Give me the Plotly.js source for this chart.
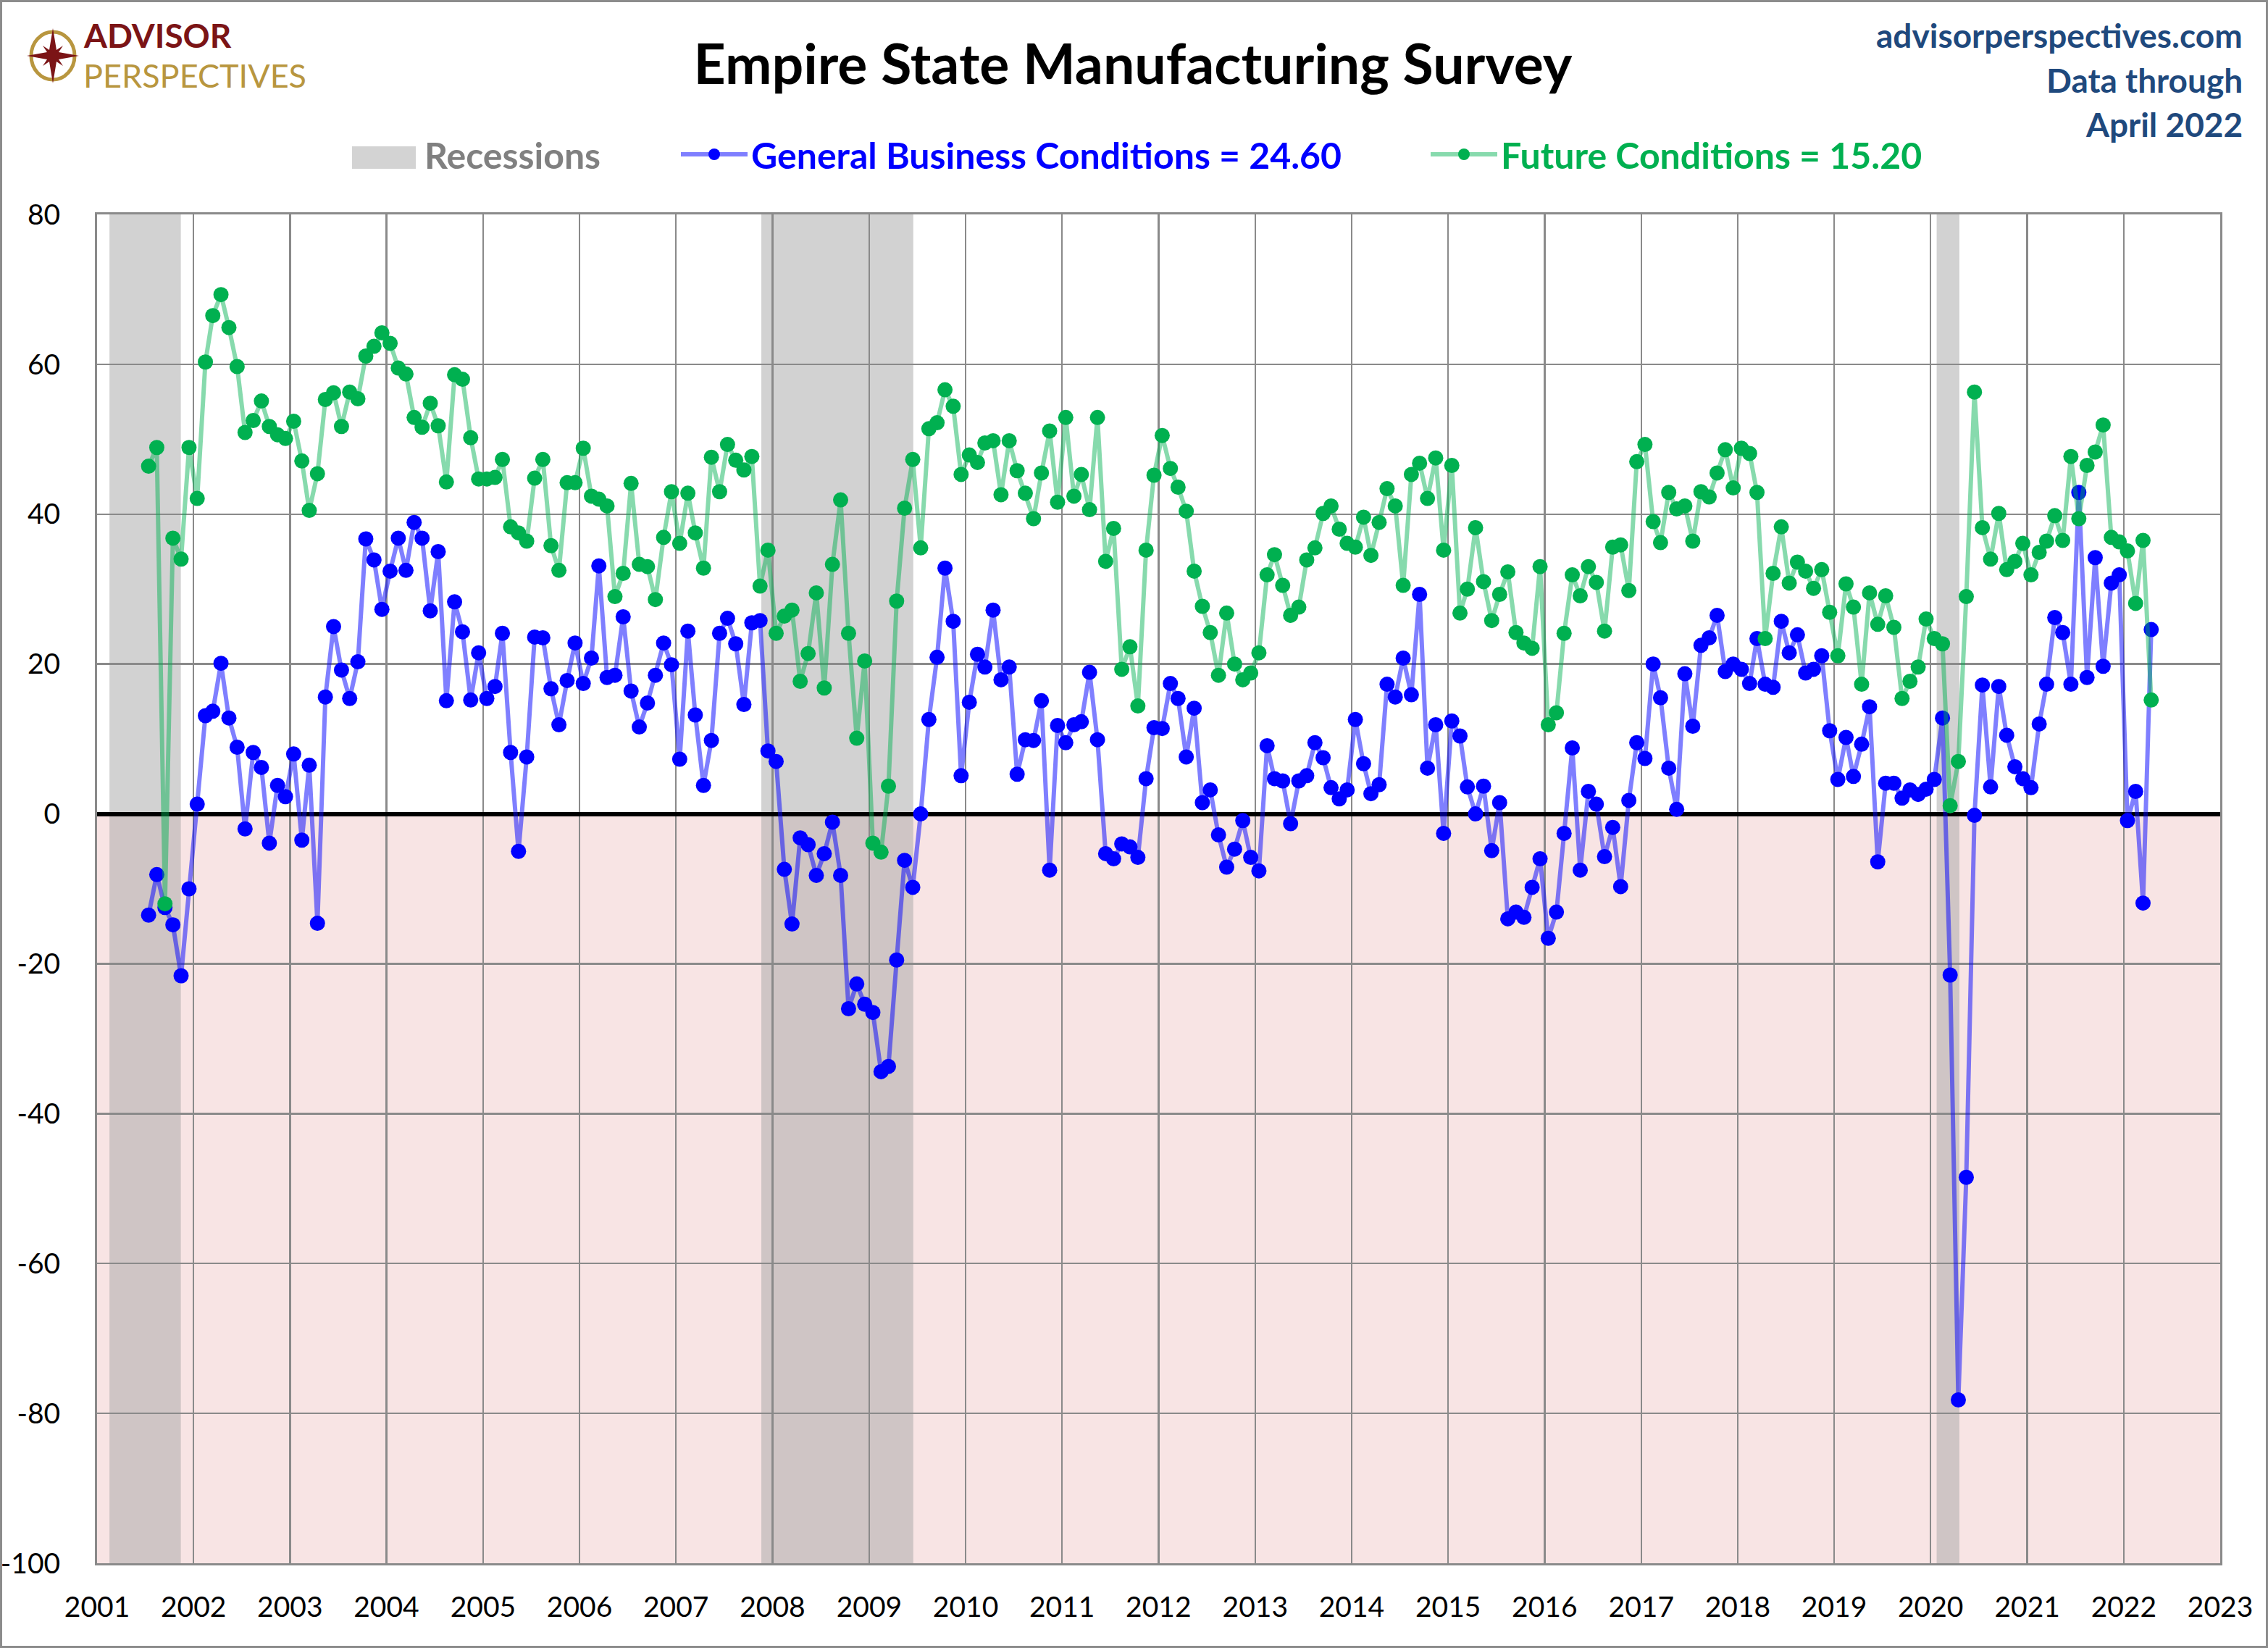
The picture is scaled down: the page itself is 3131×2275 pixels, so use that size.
<!DOCTYPE html>
<html>
<head>
<meta charset="utf-8">
<script src="https://cdn.plot.ly/plotly-3.0.1.min.js"></script>
<style>
html, body { margin: 0; padding: 0; background: #fff; }
#chart { width: 3131px; height: 2275px; }
</style>
</head>
<body>
<div id="chart"></div>
<script>
// monthly readings, Jul 2001 .. Apr 2022
var firstYear = 2001
var firstMonth = 7

var gbc = [
    -13.5, -8.1, -12.5, -14.8, -21.6, -10.0,                            // 2001 Jul-Dec
    1.3, 13.1, 13.7, 20.1, 12.8, 8.9, -2.0, 8.2, 6.2, -3.9, 3.8, 2.3,     // 2002
    8.0, -3.5, 6.5, -14.6, 15.6, 25.0, 19.2, 15.4, 20.3, 36.7, 33.9, 27.3, // 2003
    32.4, 36.8, 32.5, 38.9, 36.8, 27.1, 35.0, 15.1, 28.3, 24.3, 15.2, 21.5, // 2004
    15.4, 17.0, 24.1, 8.2, -5.0, 7.6, 23.6, 23.5, 16.7, 11.9, 17.8, 22.8,  // 2005
    17.4, 20.8, 33.1, 18.2, 18.5, 26.3, 16.4, 11.6, 14.8, 18.5, 22.8, 19.9, // 2006
    7.3, 24.4, 13.2, 3.8, 9.8, 24.1, 26.1, 22.7, 14.6, 25.5, 25.8, 8.4,    // 2007
    7.0, -7.4, -14.7, -3.2, -4.1, -8.2, -5.3, -1.1, -8.2, -26.0, -22.7, -25.4, // 2008
    -26.5, -34.4, -33.7, -19.5, -6.2, -9.8, 0.0, 12.6, 20.9, 32.8, 25.7, 5.1, // 2009
    14.9, 21.3, 19.6, 27.2, 17.9, 19.6, 5.3, 9.9, 9.8, 15.1, -7.5, 11.8,   // 2010
    9.5, 11.9, 12.3, 18.9, 9.9, -5.3, -6.0, -4.0, -4.4, -5.8, 4.7, 11.5,   // 2011
    11.4, 17.4, 15.4, 7.6, 14.1, 1.5, 3.2, -2.8, -7.1, -4.7, -0.9, -5.8,   // 2012
    -7.6, 9.1, 4.7, 4.4, -1.3, 4.4, 5.1, 9.5, 7.5, 3.5, 2.0, 3.2,          // 2013
    12.6, 6.7, 2.7, 3.9, 17.3, 15.6, 20.8, 15.9, 29.3, 6.1, 11.9, -2.6,    // 2014
    12.4, 10.4, 3.6, 0.0, 3.7, -4.9, 1.5, -14.0, -13.1, -13.8, -9.8, -6.0, // 2015
    -16.6, -13.1, -2.6, 8.8, -7.5, 3.0, 1.3, -5.7, -1.8, -9.7, 1.8, 9.5,   // 2016
    7.4, 20.0, 15.5, 6.1, 0.6, 18.7, 11.7, 22.5, 23.5, 26.5, 19.0, 20.0,   // 2017
    19.3, 17.4, 23.4, 17.3, 16.9, 25.7, 21.5, 23.9, 18.8, 19.3, 21.1, 11.1, // 2018
    4.6, 10.2, 5.0, 9.3, 14.3, -6.4, 4.1, 4.1, 2.1, 3.2, 2.6, 3.3,         // 2019
    4.6, 12.8, -21.5, -78.2, -48.5, -0.2, 17.2, 3.6, 17.0, 10.5, 6.3, 4.7, // 2020
    3.5, 12.0, 17.3, 26.2, 24.2, 17.3, 42.9, 18.2, 34.2, 19.7, 30.8, 31.9, // 2021
    -0.9, 3.0, -11.9, 24.6                                                 // 2022 Jan-Apr
]

var future = [
    46.4, 48.9, -12.0, 36.8, 34.0, 48.9,
    42.1, 60.3, 66.5, 69.3, 64.9, 59.7, 50.9, 52.5, 55.1, 51.7, 50.6, 50.1,
    52.4, 47.1, 40.5, 45.4, 55.3, 56.2, 51.7, 56.3, 55.4, 61.1, 62.4, 64.2,
    62.8, 59.5, 58.7, 52.9, 51.6, 54.8, 51.8, 44.3, 58.6, 58.0, 50.2, 44.7,
    44.7, 44.9, 47.3, 38.3, 37.5, 36.4, 44.8, 47.3, 35.8, 32.5, 44.2, 44.2,
    48.8, 42.4, 42.0, 41.1, 29.0, 32.1, 44.1, 33.3, 33.0, 28.6, 36.9, 43.0,
    36.1, 42.8, 37.5, 32.8, 47.6, 43.0, 49.3, 47.2, 45.9, 47.7, 30.4, 35.2,
    24.1, 26.4, 27.2, 17.7, 21.4, 29.5, 16.8, 33.3, 41.9, 24.1, 10.1, 20.4,
    -3.9, -5.1, 3.7, 28.4, 40.8, 47.3, 35.5, 51.4, 52.2, 56.6, 54.4, 45.3,
    47.9, 46.9, 49.5, 49.8, 42.6, 49.8, 45.8, 42.8, 39.4, 45.5, 51.1, 41.6,
    52.9, 42.4, 45.3, 40.6, 52.9, 33.7, 38.1, 19.3, 22.3, 14.4, 35.2, 45.2,
    50.5, 46.1, 43.6, 40.4, 32.4, 27.7, 24.2, 18.5, 26.8, 20.0, 17.9, 18.8,
    21.5, 31.9, 34.6, 30.5, 26.5, 27.6, 33.9, 35.5, 40.1, 41.1, 38.0, 36.1,
    35.6, 39.6, 34.5, 38.9, 43.4, 41.1, 30.5, 45.3, 46.8, 42.1, 47.5, 35.2,
    46.5, 26.8, 30.0, 38.2, 31.0, 25.8, 29.3, 32.3, 24.2, 22.8, 22.1, 33.0,
    11.9, 13.5, 24.1, 31.9, 29.1, 33.0, 30.9, 24.4, 35.6, 35.9, 29.8, 47.0,
    49.3, 39.0, 36.2, 42.9, 40.7, 41.1, 36.4, 43.0, 42.3, 45.5, 48.6, 43.5,
    48.8, 48.1, 42.9, 23.4, 32.1, 38.3, 30.8, 33.6, 32.4, 30.1, 32.6, 26.9,
    21.1, 30.7, 27.6, 17.3, 29.5, 25.3, 29.1, 24.9, 15.4, 17.7, 19.6, 26.0,
    23.4, 22.7, 1.1, 7.0, 29.0, 56.3, 38.2, 34.0, 40.1, 32.6, 33.7, 36.1,
    31.9, 34.9, 36.4, 39.8, 36.5, 47.7, 39.4, 46.5, 48.3, 51.9, 36.9, 36.3,
    35.1, 28.1, 36.5, 15.2
]

var recessionStart = ['2001-02-17', '2007-11-20', '2020-01-24']
var recessionEnd = ['2001-11-14', '2009-06-17', '2020-04-19']

var yTicks = [-100, -80, -60, -40, -20, 0, 20, 40, 60, 80]

var font = 'Lato, "Open Sans", sans-serif'

function monthDates(n){
    var out = []
    for(let i = 0; i < n; i++){
        let m = firstMonth - 1 + i
        let y = firstYear + Math.floor(m / 12)
        let mm = (m % 12) + 1
        out.push(y + '-' + (mm < 10 ? '0' + mm : mm) + '-15')
    }
    return out
}

var dates = monthDates(gbc.length)

var lastGbc = gbc[gbc.length - 1].toFixed(2)
var lastFuture = future[future.length - 1].toFixed(2)

var gbcTrace = {
    x: dates,
    y: gbc,
    type: 'scatter',
    mode: 'lines+markers',
    name: '<span style="color:#0000ff">General Business Conditions = ' + lastGbc + '</span>',
    line: {color: 'rgba(0,0,255,0.5)', width: 6},
    marker: {color: '#0000ff', size: 21},
    legend: 'legend'
}

var futureTrace = {
    x: dates,
    y: future,
    type: 'scatter',
    mode: 'lines+markers',
    name: '<span style="color:#00b050">Future Conditions = ' + lastFuture + '</span>',
    line: {color: 'rgba(0,176,80,0.47)', width: 6},
    marker: {color: '#00b050', size: 21},
    legend: 'legend2'
}

// page geometry (plot area 134..3065 x 296..2158)
function px(x){ return (x - 134) / 2931 }
function py(y){ return (2158 - y) / 1862 }

var shapes = []

shapes.push({
    type: 'rect', layer: 'below', xref: 'paper', yref: 'y',
    x0: 0, x1: 1, y0: -100, y1: 0,
    fillcolor: '#f8e4e4', line: {width: 0}
})

for(let i = 0; i < recessionStart.length; i++){
    shapes.push({
        type: 'rect', layer: 'below', xref: 'x', yref: 'y',
        x0: recessionStart[i], x1: recessionEnd[i], y0: -100, y1: 80,
        fillcolor: 'rgba(166,166,166,0.5)', line: {width: 0}
    })
}

// recession key
shapes.push({
    type: 'rect', xref: 'paper', yref: 'paper',
    x0: px(486), x1: px(574), y0: py(233), y1: py(202),
    fillcolor: '#d3d3d3', line: {width: 0}
})

// outer frame
shapes.push({
    type: 'rect', xref: 'paper', yref: 'paper',
    x0: px(1.5), x1: px(3129.5), y0: py(2273.5), y1: py(1.5),
    line: {color: '#8c8c8c', width: 3}
})

// logo compass
shapes.push({
    type: 'circle', xref: 'paper', yref: 'paper',
    xsizemode: 'pixel', ysizemode: 'pixel',
    xanchor: px(73), yanchor: py(77),
    x0: -30, x1: 30, y0: -33, y1: 33,
    line: {color: '#b8963f', width: 5}
})
shapes.push({
    type: 'path', xref: 'paper', yref: 'paper',
    xsizemode: 'pixel', ysizemode: 'pixel',
    xanchor: px(73), yanchor: py(77),
    path: 'M0,38 L5,8 L14,14 L8,5 L36,0 L8,-5 L14,-14 L5,-8 L0,-38 L-5,-8 L-14,-14 L-8,-5 L-36,0 L-8,5 L-14,14 L-5,8 Z',
    fillcolor: '#7b1416', line: {width: 0}
})

var annotations = [
    {text: 'ADVISOR', x: px(113), y: py(49), xanchor: 'left', yanchor: 'middle',
     font: {family: font, size: 46, weight: 'bold', color: '#7b1416'}},
    {text: 'PERSPECTIVES', x: px(113), y: py(104), xanchor: 'left', yanchor: 'middle',
     font: {family: font, size: 45, color: '#b8963f'}},
    {text: 'Recessions', x: px(584), y: py(214), xanchor: 'left', yanchor: 'middle',
     font: {family: font, size: 50, weight: 'bold', color: '#808080'}},
    {text: 'advisorperspectives.com', x: px(3098), y: py(49), xanchor: 'right', yanchor: 'middle',
     font: {family: font, size: 46, weight: 'bold', color: '#1f497d'}},
    {text: 'Data through', x: px(3098), y: py(111), xanchor: 'right', yanchor: 'middle',
     font: {family: font, size: 46, weight: 'bold', color: '#1f497d'}},
    {text: 'April 2022', x: px(3098), y: py(171), xanchor: 'right', yanchor: 'middle',
     font: {family: font, size: 46, weight: 'bold', color: '#1f497d'}}
]
annotations.forEach(function(a){
    a.xref = 'paper'
    a.yref = 'paper'
    a.showarrow = false
})

var legendFont = {family: font, size: 50, weight: 'bold', color: '#808080'}

var layout = {
    width: 3131,
    height: 2275,
    margin: {l: 134, r: 66, t: 296, b: 117},
    paper_bgcolor: '#ffffff',
    plot_bgcolor: 'rgba(0,0,0,0)',
    font: {family: font, color: '#000000'},
    title: {
        text: 'Empire State Manufacturing Survey',
        font: {family: font, size: 77, weight: 'bold', color: '#000000'},
        x: 0.4995, xanchor: 'center',
        y: 1 - 89 / 2275, yanchor: 'middle'
    },
    showlegend: true,
    legend: {
        orientation: 'h',
        x: px(935), xanchor: 'left',
        y: py(213), yanchor: 'middle',
        font: legendFont,
        bgcolor: 'rgba(0,0,0,0)',
        itemwidth: 92
    },
    legend2: {
        orientation: 'h',
        x: px(1970), xanchor: 'left',
        y: py(213), yanchor: 'middle',
        font: legendFont,
        bgcolor: 'rgba(0,0,0,0)',
        itemwidth: 92
    },
    xaxis: {
        type: 'date',
        range: ['2001-01-01', '2023-01-01'],
        tick0: '2001-01-01',
        dtick: 'M12',
        tickformat: '%Y',
        showgrid: true,
        gridcolor: '#8a8a8a',
        gridwidth: 2.5,
        showline: true,
        mirror: true,
        linecolor: '#8a8a8a',
        linewidth: 3,
        ticks: '',
        ticklabelstandoff: 24,
        tickfont: {family: font, size: 39, color: '#000000'},
        zeroline: false
    },
    yaxis: {
        range: [-100, 80],
        tickvals: yTicks,
        ticktext: yTicks.map(String),
        showgrid: true,
        gridcolor: '#8a8a8a',
        gridwidth: 2.5,
        showline: true,
        mirror: true,
        linecolor: '#8a8a8a',
        linewidth: 3,
        ticks: '',
        ticklabelstandoff: 40,
        tickfont: {family: font, size: 39, color: '#000000'},
        zeroline: true,
        zerolinecolor: '#000000',
        zerolinewidth: 6
    },
    shapes: shapes,
    annotations: annotations
}

Plotly.newPlot('chart', [gbcTrace, futureTrace], layout, {staticPlot: true})
</script>
</body>
</html>
